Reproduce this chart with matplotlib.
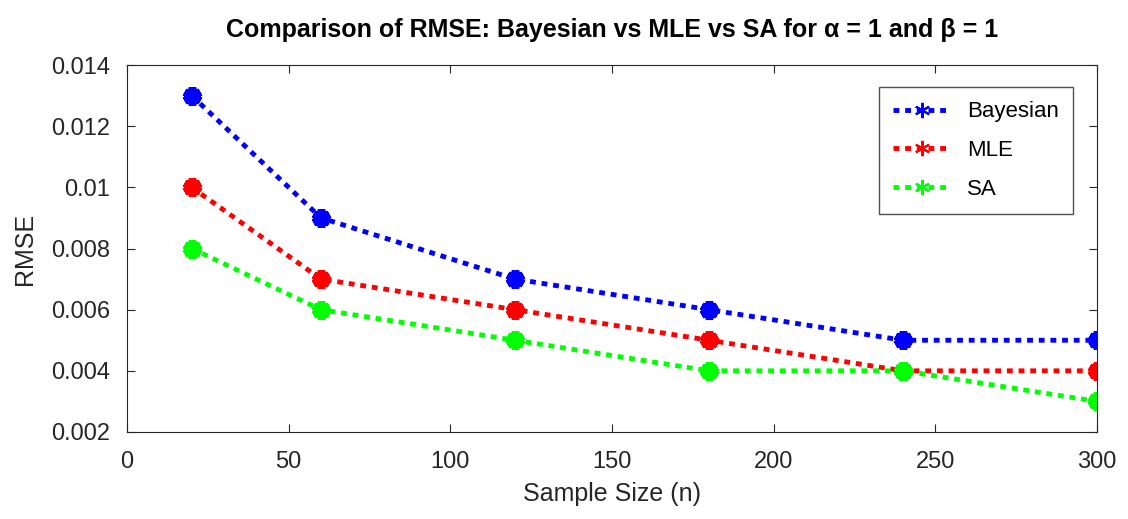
import numpy as np
import matplotlib
matplotlib.use('Agg')
from matplotlib import pyplot as plt

n = [20, 60, 120, 180, 240, 300]
bayes = [0.013, 0.009, 0.007, 0.006, 0.005, 0.005]
mle = [0.010, 0.007, 0.006, 0.005, 0.004, 0.004]
sa = [0.008, 0.006, 0.005, 0.004, 0.004, 0.003]

plt.rcParams['font.family'] = ['Liberation Sans', 'DejaVu Sans']

fig = plt.figure(figsize=(11.28, 5.19), dpi=100)
ax = fig.add_axes([127/1128, 1-432/519, (1097-127)/1128, (432-65)/519])

ast = (6, 2, 0)
for y, c, lab in [(bayes, '#0000ff', 'Bayesian'), (mle, '#ff0000', 'MLE'), (sa, '#00ff00', 'SA')]:
    ax.plot(n, y, ls=(0, (1.2, 1.2)), lw=3.5, color=c, marker=ast, ms=13, mew=5.5, label=lab)

ax.set_xlim(0, 300)
ax.set_ylim(0.002, 0.014)
ax.set_xticks([0, 50, 100, 150, 200, 250, 300])
ax.set_yticks([0.002, 0.004, 0.006, 0.008, 0.01, 0.012, 0.014])
ax.set_yticklabels(['0.002', '0.004', '0.006', '0.008', '0.01', '0.012', '0.014'])
ax.tick_params(direction='in', labelsize=17, colors='#262626', length=6, top=True, right=True)
ax.tick_params(axis='x', pad=14)
ax.tick_params(axis='y', pad=12)
for s in ax.spines.values():
    s.set_color('#262626')
ax.set_xlabel('Sample Size (n)', fontsize=18, color='#262626', labelpad=6)
ax.set_ylabel('RMSE', fontsize=18, color='#262626', labelpad=10)
ax.set_title('Comparison of RMSE: Bayesian vs MLE vs SA for α = 1 and β = 1',
             fontsize=18, fontweight='bold', pad=20)

leg = ax.legend(loc='upper right', bbox_to_anchor=(1073/1128, 1-87/519),
                bbox_transform=fig.transFigure, borderaxespad=0,
                fontsize=16, frameon=True, fancybox=False,
                edgecolor='#262626', handlelength=2.6, handletextpad=0.7,
                borderpad=0.65, labelspacing=0.8)
leg.get_frame().set_linewidth(1)
for h in leg.legend_handles:
    h.set_markersize(11)
    h.set_markeredgewidth(1.5)

fig.savefig('out.png', dpi=100)
